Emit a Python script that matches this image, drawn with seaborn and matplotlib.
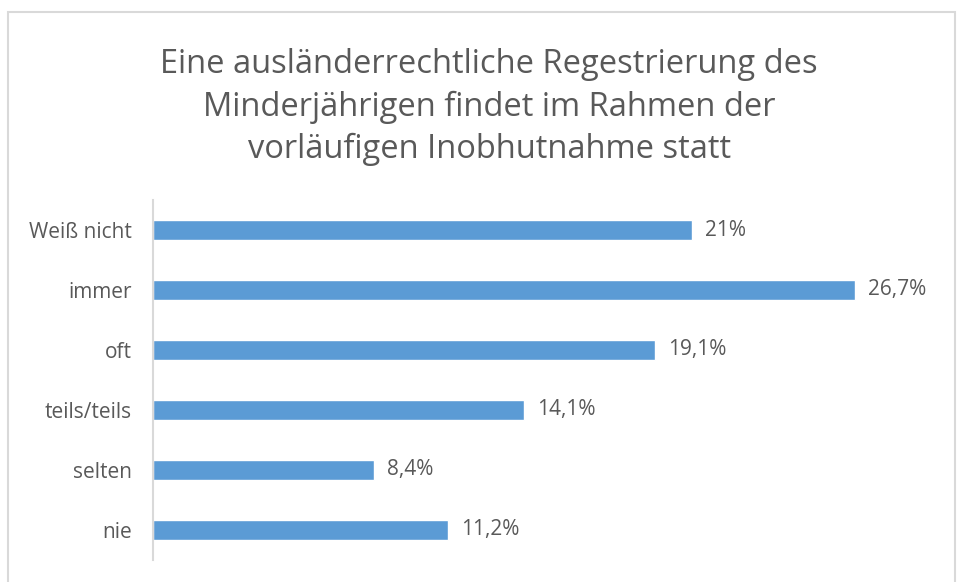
import pandas as pd
import seaborn as sns
from matplotlib import pyplot as plt
from matplotlib.patches import Rectangle

categories = ['Weiß nicht', 'immer', 'oft', 'teils/teils', 'selten', 'nie']
values = [20.5, 26.7, 19.1, 14.1, 8.4, 11.2]
value_labels = ['21%', '26,7%', '19,1%', '14,1%', '8,4%', '11,2%']
title = ('Eine ausländerrechtliche Regestrierung des\n'
         'Minderjährigen findet im Rahmen der\n'
         'vorläufigen Inobhutnahme statt')

sns.set_style('white')
plt.rcParams['font.family'] = ['Open Sans', 'DejaVu Sans']

df = pd.DataFrame({'cat': categories, 'val': values})

fig = plt.figure(figsize=(9.59, 5.82), dpi=100)
# outer chart frame
fig.patches.append(Rectangle((8 / 959, -0.01), 947 / 959, 1 - 12 / 582 + 0.01,
                             transform=fig.transFigure, fill=False,
                             edgecolor='#D9D9D9', linewidth=1.5))

ax = fig.add_axes([153 / 959, 22 / 582, 785 / 959, 360 / 582])
sns.barplot(data=df, x='val', y='cat', color='#5B9BD5', saturation=1,
            width=0.34, ax=ax)
ax.set_xlim(0, 29.85)
ax.set_ylim(5.5, -0.5)
ax.set_xlabel('')
ax.set_ylabel('')
ax.set_xticks([])
ax.tick_params(axis='y', length=0, pad=15, labelsize=15, labelcolor='#595959')
for s in ['top', 'right', 'bottom']:
    ax.spines[s].set_visible(False)
ax.spines['left'].set_color('#D9D9D9')
ax.spines['left'].set_linewidth(1.5)

for i, (v, lab) in enumerate(zip(values, value_labels)):
    ax.text(v + 0.5, i, lab, va='center', ha='left', fontsize=15, color='#595959')

fig.text(0.51, 0.918, title, ha='center', va='top', fontsize=23.5,
         color='#595959', linespacing=1.38)

plt.savefig('out.png', dpi=100)
